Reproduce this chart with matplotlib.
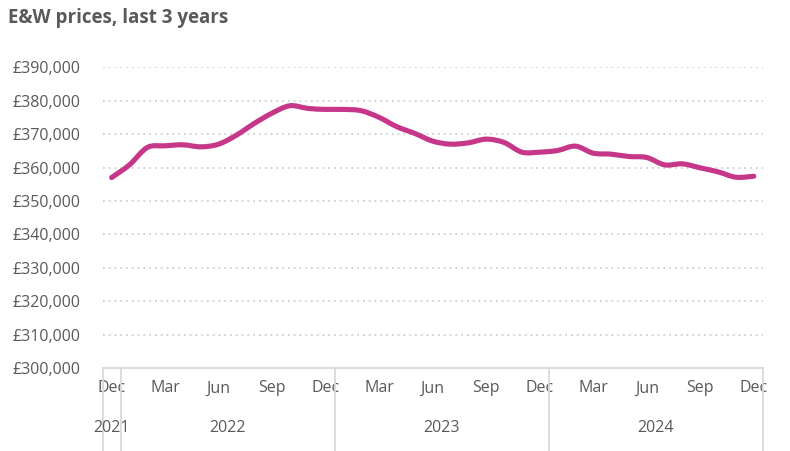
import matplotlib.pyplot as plt
from matplotlib.path import Path
from matplotlib.patches import PathPatch
from matplotlib.transforms import blended_transform_factory

plt.rcParams['font.family'] = ['Open Sans', 'DejaVu Sans']

# monthly E&W average prices, Dec 2021 .. Dec 2024
months = ['Dec', 'Jan', 'Feb', 'Mar', 'Apr', 'May', 'Jun', 'Jul', 'Aug', 'Sep', 'Oct', 'Nov'] * 3 + ['Dec']
years = [2021] + [2022] * 12 + [2023] * 12 + [2024] * 12
prices = [357000, 360800, 366000, 366500, 366800, 366200, 367000, 369700, 373200, 376300,
          378500, 377700, 377400, 377400, 377000, 375000, 372200, 370200, 367900, 367000,
          367400, 368500, 367500, 364600, 364600, 365100, 366400, 364300, 364000, 363300,
          363000, 360800, 361100, 359900, 358700, 357100, 357400]
yticks = list(range(300000, 390001, 10000))

grey = '#595959'
W, H = 790, 451
fig = plt.figure(figsize=(W / 100, H / 100), dpi=100)
ax = fig.add_axes([102.7 / W, (H - 368) / H, 660 / W, (368 - 67.3) / H])

x = list(range(len(prices)))


def smooth_path(xs, ys, k=1 / 6):
    # Excel-style smoothed line: cubic bezier segments through every point
    verts = [(xs[0], ys[0])]
    codes = [Path.MOVETO]
    n = len(xs)
    for i in range(n - 1):
        p0 = i - 1 if i > 0 else i
        p3 = i + 2 if i + 2 < n else i + 1
        c1 = (xs[i] + k * (xs[i + 1] - xs[p0]), ys[i] + k * (ys[i + 1] - ys[p0]))
        c2 = (xs[i + 1] - k * (xs[p3] - xs[i]), ys[i + 1] - k * (ys[p3] - ys[i]))
        verts += [c1, c2, (xs[i + 1], ys[i + 1])]
        codes += [Path.CURVE4] * 3
    return Path(verts, codes)


ax.add_patch(PathPatch(smooth_path(x, prices), facecolor='none', edgecolor='#c6378a',
                       lw=3.7, joinstyle='round', capstyle='round', zorder=3))

ax.set_xlim(-0.5, len(prices) - 0.5)
ax.set_ylim(yticks[0], yticks[-1])
ax.set_yticks(yticks)
ax.set_yticklabels([f'£{v:,}' for v in yticks], color=grey, fontsize=11.5)
ax.yaxis.grid(True, linestyle=(0, (1, 2.2)), color='#cfcfcf', lw=1.3)
ax.tick_params(axis='y', length=0, pad=16)

step = [i for i in x if i % 3 == 0]
ax.set_xticks(step)
ax.set_xticklabels([months[i] for i in step], color=grey, fontsize=11.5)
ax.tick_params(axis='x', length=0, pad=9)

for s in ['top', 'right', 'left']:
    ax.spines[s].set_visible(False)
ax.spines['bottom'].set_color('#d9d9d9')
ax.spines['bottom'].set_linewidth(1.3)

# year groups under the month labels
tr = blended_transform_factory(ax.transData, fig.transFigure)
ybot = (H - 368) / H
bounds = [-0.5] + [i - 0.5 for i in x[1:] if years[i] != years[i - 1]] + [len(prices) - 0.5]
for b in bounds:
    ax.plot([b, b], [0, ybot], transform=tr, color='#d9d9d9', lw=1.3, clip_on=False)
for a, b in zip(bounds[:-1], bounds[1:]):
    ax.text((a + b) / 2, (H - 428) / H, str(years[int(a + 1)]), transform=tr,
            ha='center', va='center', color=grey, fontsize=11.5)

fig.text(8 / W, 1 - 18 / H, 'E&W prices, last 3 years', fontsize=13.5, fontweight='bold',
         color=grey, ha='left', va='center')

fig.savefig('out.png', dpi=100)
